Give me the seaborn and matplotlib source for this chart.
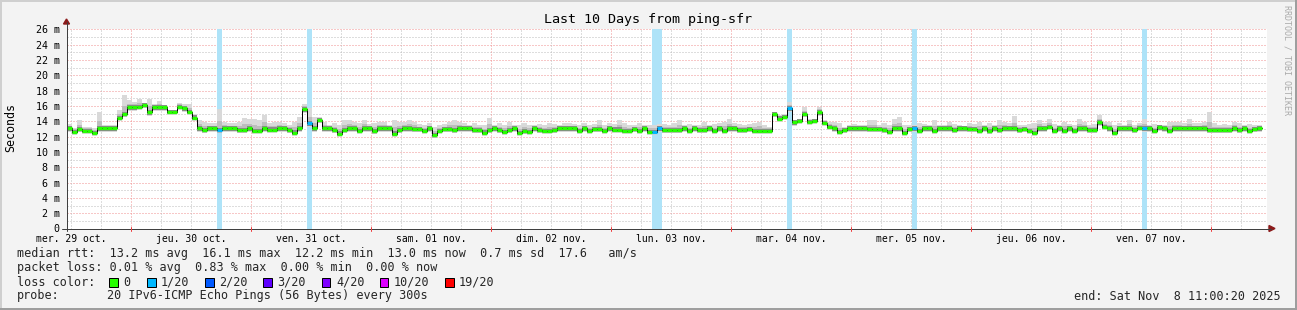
import numpy as np
import matplotlib
matplotlib.use("Agg")
import matplotlib.pyplot as plt
import seaborn as sns
import pandas as pd
from matplotlib.patches import Rectangle, Polygon
from matplotlib.lines import Line2D

# ---------------- data (hourly consolidation, ms) ----------------
median_ms = [
    13.07, 12.63, 12.98, 12.76, 12.76, 12.50, 13.07, 13.07, 13.07, 13.07,
    14.46, 14.94, 15.81, 15.81, 15.90, 16.11, 15.16, 15.81, 15.81, 15.81,
    15.24, 15.24, 15.90, 15.68, 15.24, 14.50, 13.07, 12.85, 13.07, 13.07,
    12.85, 13.07, 13.07, 13.07, 12.85, 12.85, 13.07, 12.76, 12.76, 13.07,
    12.93, 12.93, 13.07, 13.07, 12.85, 12.54, 13.07, 15.55, 13.72, 13.07,
    14.15, 13.07, 13.07, 12.85, 12.41, 12.85, 13.07, 13.07, 12.76, 13.07,
    13.07, 12.72, 13.07, 13.07, 13.07, 12.41, 12.85, 13.07, 13.07, 12.98,
    12.98, 12.76, 13.07, 12.19, 12.76, 12.98, 12.98, 12.85, 13.07, 13.07,
    13.07, 12.85, 12.85, 12.54, 12.85, 13.07, 12.85, 12.63, 12.85, 13.07,
    12.50, 12.72, 12.63, 13.07, 12.85, 12.76, 12.76, 12.85, 13.07, 13.07,
    13.07, 13.07, 12.76, 13.07, 12.76, 12.98, 12.98, 12.76, 13.07, 12.93,
    12.93, 12.76, 12.76, 12.98, 12.76, 13.07, 12.63, 12.63, 13.07, 12.85,
    12.85, 12.85, 12.85, 13.07, 12.76, 13.07, 12.85, 12.85, 13.07, 12.76,
    13.07, 12.76, 13.07, 13.07, 12.85, 12.85, 12.98, 12.76, 12.76, 12.76,
    12.76, 14.94, 14.37, 14.59, 15.68, 13.85, 14.07, 14.94, 13.94, 14.07,
    15.16, 13.81, 13.28, 13.07, 12.63, 12.85, 13.07, 13.07, 13.07, 13.07,
    12.98, 12.98, 12.98, 12.85, 12.63, 13.07, 13.07, 12.50, 12.98, 13.07,
    12.76, 13.07, 13.07, 12.76, 13.07, 13.07, 13.07, 12.85, 13.07, 13.07,
    12.98, 12.98, 12.76, 13.07, 12.72, 13.07, 12.85, 13.07, 13.07, 13.07,
    12.85, 12.98, 12.76, 12.50, 13.07, 13.07, 13.28, 12.76, 13.07, 12.76,
    13.07, 12.76, 13.07, 13.07, 12.85, 12.85, 13.85, 13.28, 13.07, 12.50,
    13.07, 13.07, 13.07, 12.85, 13.15, 13.07, 13.07, 12.76, 13.20, 13.07,
    12.76, 13.07, 13.07, 13.07, 13.07, 13.07, 13.07, 13.07, 12.85, 12.85,
    12.85, 12.85, 12.85, 13.07, 12.85, 13.07, 12.76, 12.98, 13.07,
]

smoke_hi_ms = [
    13.59, 13.15, 14.24, 13.28, 13.28, 13.15, 15.16, 13.50, 13.50, 13.50,
    15.46, 17.42, 16.85, 16.55, 16.98, 16.24, 16.98, 16.33, 16.64, 16.11,
    15.46, 15.46, 16.46, 16.33, 16.33, 15.02, 14.15, 13.94, 13.72, 13.72,
    15.60, 13.94, 13.72, 13.72, 13.94, 14.46, 14.37, 14.37, 14.15, 14.89,
    13.72, 13.94, 13.94, 13.72, 13.50, 13.94, 14.59, 16.33, 15.68, 14.59,
    14.59, 13.94, 13.50, 13.72, 13.50, 14.15, 14.15, 13.94, 13.72, 14.15,
    13.59, 13.72, 13.94, 13.94, 13.50, 14.15, 13.94, 13.94, 14.15, 13.94,
    13.59, 13.50, 13.72, 13.28, 13.50, 13.59, 13.94, 14.15, 13.94, 13.72,
    13.50, 13.72, 13.50, 13.50, 14.50, 13.50, 13.72, 13.50, 13.94, 13.50,
    13.50, 13.72, 13.50, 13.50, 13.59, 13.50, 13.72, 13.59, 13.50, 13.72,
    13.72, 13.59, 13.50, 13.72, 13.50, 13.59, 14.15, 13.50, 13.72, 13.59,
    14.15, 13.72, 13.50, 13.50, 13.72, 13.50, 13.50, 13.50, 13.59, 13.59,
    13.50, 13.72, 14.15, 13.50, 13.59, 13.50, 13.50, 13.94, 13.50, 13.59,
    13.72, 13.94, 14.37, 13.72, 13.59, 13.50, 13.59, 13.72, 13.94, 13.50,
    13.28, 15.24, 14.81, 15.02, 16.55, 14.15, 14.37, 15.81, 14.37, 14.28,
    15.90, 14.15, 13.94, 13.94, 13.72, 13.28, 13.50, 13.59, 13.50, 13.50,
    14.15, 14.15, 13.50, 13.72, 13.50, 14.37, 14.59, 13.50, 13.50, 13.50,
    13.72, 13.59, 13.50, 14.15, 13.50, 13.50, 13.94, 13.59, 13.50, 13.28,
    13.72, 13.59, 13.94, 13.50, 13.72, 13.50, 14.15, 13.94, 13.72, 14.72,
    13.50, 13.50, 13.59, 13.72, 14.15, 13.72, 14.28, 13.59, 13.50, 13.94,
    13.59, 13.50, 14.28, 13.94, 13.50, 13.59, 14.81, 13.94, 13.94, 13.50,
    13.72, 13.50, 14.15, 13.50, 13.72, 14.28, 13.50, 13.59, 13.50, 13.50,
    13.94, 13.94, 13.94, 13.72, 14.28, 13.72, 13.72, 13.94, 15.24, 13.72,
    13.50, 13.59, 13.50, 13.94, 13.72, 13.50, 13.59, 13.50, 13.50,
]

loss_hours = [30, 48, 117, 118, 144, 169, 215]
loss_pings = [1, 1, 1, 1, 1, 1, 1]

y_ticks = [0, 2, 4, 6, 8, 10, 12, 14, 16, 18, 20, 22, 24, 26]
y_tick_labels = ["0", "2 m", "4 m", "6 m", "8 m", "10 m", "12 m", "14 m",
                 "16 m", "18 m", "20 m", "22 m", "24 m", "26 m"]
day_labels = ["mer. 29 oct.", "jeu. 30 oct.", "ven. 31 oct.", "sam. 01 nov.",
              "dim. 02 nov.", "lun. 03 nov.", "mar. 04 nov.", "mer. 05 nov.",
              "jeu. 06 nov.", "ven. 07 nov."]
first_midnight_h = 12.994   # graph starts Wed 29 Oct 11:00:20
loss_levels = ["0", "1/20", "2/20", "3/20", "4/20", "10/20", "19/20"]
loss_level_colors = ["#26ff00", "#00b8ff", "#0059ff", "#5e00ff", "#7e00ff", "#dd00ff", "#ff0000"]
title = "Last 10 Days from ping-sfr"
stat_lines = [
    "median rtt:  13.2 ms avg  16.1 ms max  12.2 ms min  13.0 ms now  0.7 ms sd  17.6   am/s",
    "packet loss: 0.01 % avg  0.83 % max  0.00 % min  0.00 % now",
]
probe_text = "20 IPv6-ICMP Echo Pings (56 Bytes) every 300s"
end_text = "end: Sat Nov  8 11:00:20 2025"

# ---------------- figure ----------------
W, H = 1297, 310
sns.set_theme(style="white")
plt.rcParams["font.family"] = ["DejaVu Sans Mono", "DejaVu Sans"]
fig = plt.figure(figsize=(W / 100, H / 100), dpi=100, facecolor="#f3f3f3")

def fx(px):
    return px / W

def fy(py):
    return 1 - py / H

PX = 0.72  # one pixel in points
ms_per_px = 1 / 7.654
ax_left, ax_right, ax_top, ax_bot = 66.5, 1266.5, 28.5, 228.5
ax = fig.add_axes([fx(ax_left), fy(ax_bot), (ax_right - ax_left) / W, (ax_bot - ax_top) / H])
ax.set_facecolor("white")
ax.set_xlim(0, 240)
ax.set_ylim(0, (ax_bot - ax_top) * ms_per_px)
for s in ax.spines.values():
    s.set_visible(False)

# grid
grid_kw = dict(lw=PX, linestyle=(0, (1, 2)), zorder=0.5)
major_c, minor_c = "#f09090", "#bdbdbd"
for v in range(1, 27):
    ax.axhline(v, color=major_c if v % 2 == 0 else minor_c, **grid_kw)
h = first_midnight_h - 24
while h < 240:
    for k in range(4):
        xx = h + 6 * k
        if 0 < xx < 240:
            ax.axvline(xx, color=major_c if k == 0 else minor_c, **grid_kw)
    h += 24

n = len(median_ms)
hours = np.arange(n)
med = np.array(median_ms)
hi = np.maximum(np.array(smoke_hi_ms), med + 0.3)
edges = np.arange(n + 1)

# loss bars (full height)
for lh, lp in zip(loss_hours, loss_pings):
    ax.axvspan(lh, lh + 1, color="#aee3f8", lw=0, zorder=1)

# smoke
ax.stairs(hi, edges, baseline=med - 0.4, fill=True, color="#d9d9d9", lw=0, zorder=2)
ax.stairs(med + 0.1 + 0.4 * (hi - med), edges, baseline=med - 0.32, fill=True, color="#bdbdbd", lw=0, zorder=3)
ax.stairs(med + 0.3, edges, baseline=med - 0.3, fill=True, color="#8a8a8a", lw=0, zorder=4)

# median: black step line + loss-coloured segments
df = pd.DataFrame({"h": np.append(hours, n), "ms": np.append(med, med[-1])})
sns.lineplot(data=df, x="h", y="ms", drawstyle="steps-post", color="black",
             lw=1.0 * PX, estimator=None, ax=ax, zorder=5)
seg_colors = []
loss_map = dict(zip(loss_hours, loss_pings))
for i in hours:
    lp = loss_map.get(i, 0)
    seg_colors.append(loss_level_colors[1] if lp == 1 else loss_level_colors[0])
ax.hlines(med, hours, hours + 1, colors=seg_colors, lw=3.2 * PX, zorder=6)
ax.set_xlabel("")
ax.set_ylabel("")

# y ticks
ax.set_yticks(y_ticks)
ax.set_yticklabels(y_tick_labels, fontsize=7.2, color="black")
ax.tick_params(axis="y", length=0, pad=5)
# x ticks: labels at noon, marks at midnight
noon = [first_midnight_h - 12 + 24 * k for k in range(len(day_labels))]
ax.set_xticks(noon)
ax.set_xticklabels(day_labels, fontsize=7.0, color="black")
ax.tick_params(axis="x", length=0, pad=4)

# axis lines and arrows
fig.add_artist(Line2D([fx(ax_left), fx(ax_left)], [fy(231), fy(22)], color="#404040", lw=PX))
fig.add_artist(Line2D([fx(62), fx(1271)], [fy(ax_bot), fy(ax_bot)], color="#404040", lw=PX))
for mx in np.arange(first_midnight_h, 240, 24):
    xp = ax_left + mx * 5
    fig.add_artist(Line2D([fx(xp), fx(xp)], [fy(ax_bot - 2), fy(ax_bot + 2)], color="#f04040", lw=PX))
fig.add_artist(Polygon([[fx(63.5), fy(24)], [fx(69.5), fy(24)], [fx(66.5), fy(19)]],
                       closed=True, color="#8b1a1a"))
fig.add_artist(Polygon([[fx(1269), fy(225.5)], [fx(1269), fy(231.5)], [fx(1275), fy(228.5)]],
                       closed=True, color="#8b1a1a"))

# title and labels
fig.text(fx(648), fy(19), title, ha="center", va="center", fontsize=9.6, color="black")
fig.text(fx(11), fy(127), "Seconds", rotation=90, ha="center", va="center", fontsize=8.4, color="black")
fig.text(fx(1287), fy(5), "RRDTOOL / TOBI OETIKER", rotation=270, ha="center", va="top",
         fontsize=6.0, color="#aaaaaa")

# legend / stats
fs = 8.5
fig.text(fx(17), fy(254), stat_lines[0], ha="left", va="center", fontsize=fs)
fig.text(fx(17), fy(268), stat_lines[1], ha="left", va="center", fontsize=fs)
fig.text(fx(17), fy(282), "loss color:", ha="left", va="center", fontsize=fs)
box_x = [108.5, 146.5, 204.5, 262.5, 321.5, 379.5, 444.5]
for bx, lab, col in zip(box_x, loss_levels, loss_level_colors):
    fig.add_artist(Rectangle((fx(bx), fy(287)), 9 / W, 9 / H, facecolor=col,
                             edgecolor="black", lw=PX))
    fig.text(fx(bx + 14.5), fy(282), lab, ha="left", va="center", fontsize=fs)
fig.text(fx(17), fy(296), "probe:", ha="left", va="center", fontsize=fs)
fig.text(fx(107), fy(296), probe_text, ha="left", va="center", fontsize=fs)
fig.text(fx(1281), fy(296), end_text, ha="right", va="center", fontsize=fs)

# 3D frame
fig.add_artist(Rectangle((0, 0), 1, 2 / H, color="#9e9e9e", lw=0))
fig.add_artist(Rectangle((1 - 2 / W, 0), 2 / W, 1, color="#9e9e9e", lw=0))
fig.add_artist(Rectangle((0, 1 - 2 / H), 1 - 2 / W, 2 / H, color="#cfcfcf", lw=0))
fig.add_artist(Rectangle((0, 2 / H), 2 / W, 1 - 4 / H, color="#cfcfcf", lw=0))

fig.savefig("out.png", dpi=100, facecolor=fig.get_facecolor())
